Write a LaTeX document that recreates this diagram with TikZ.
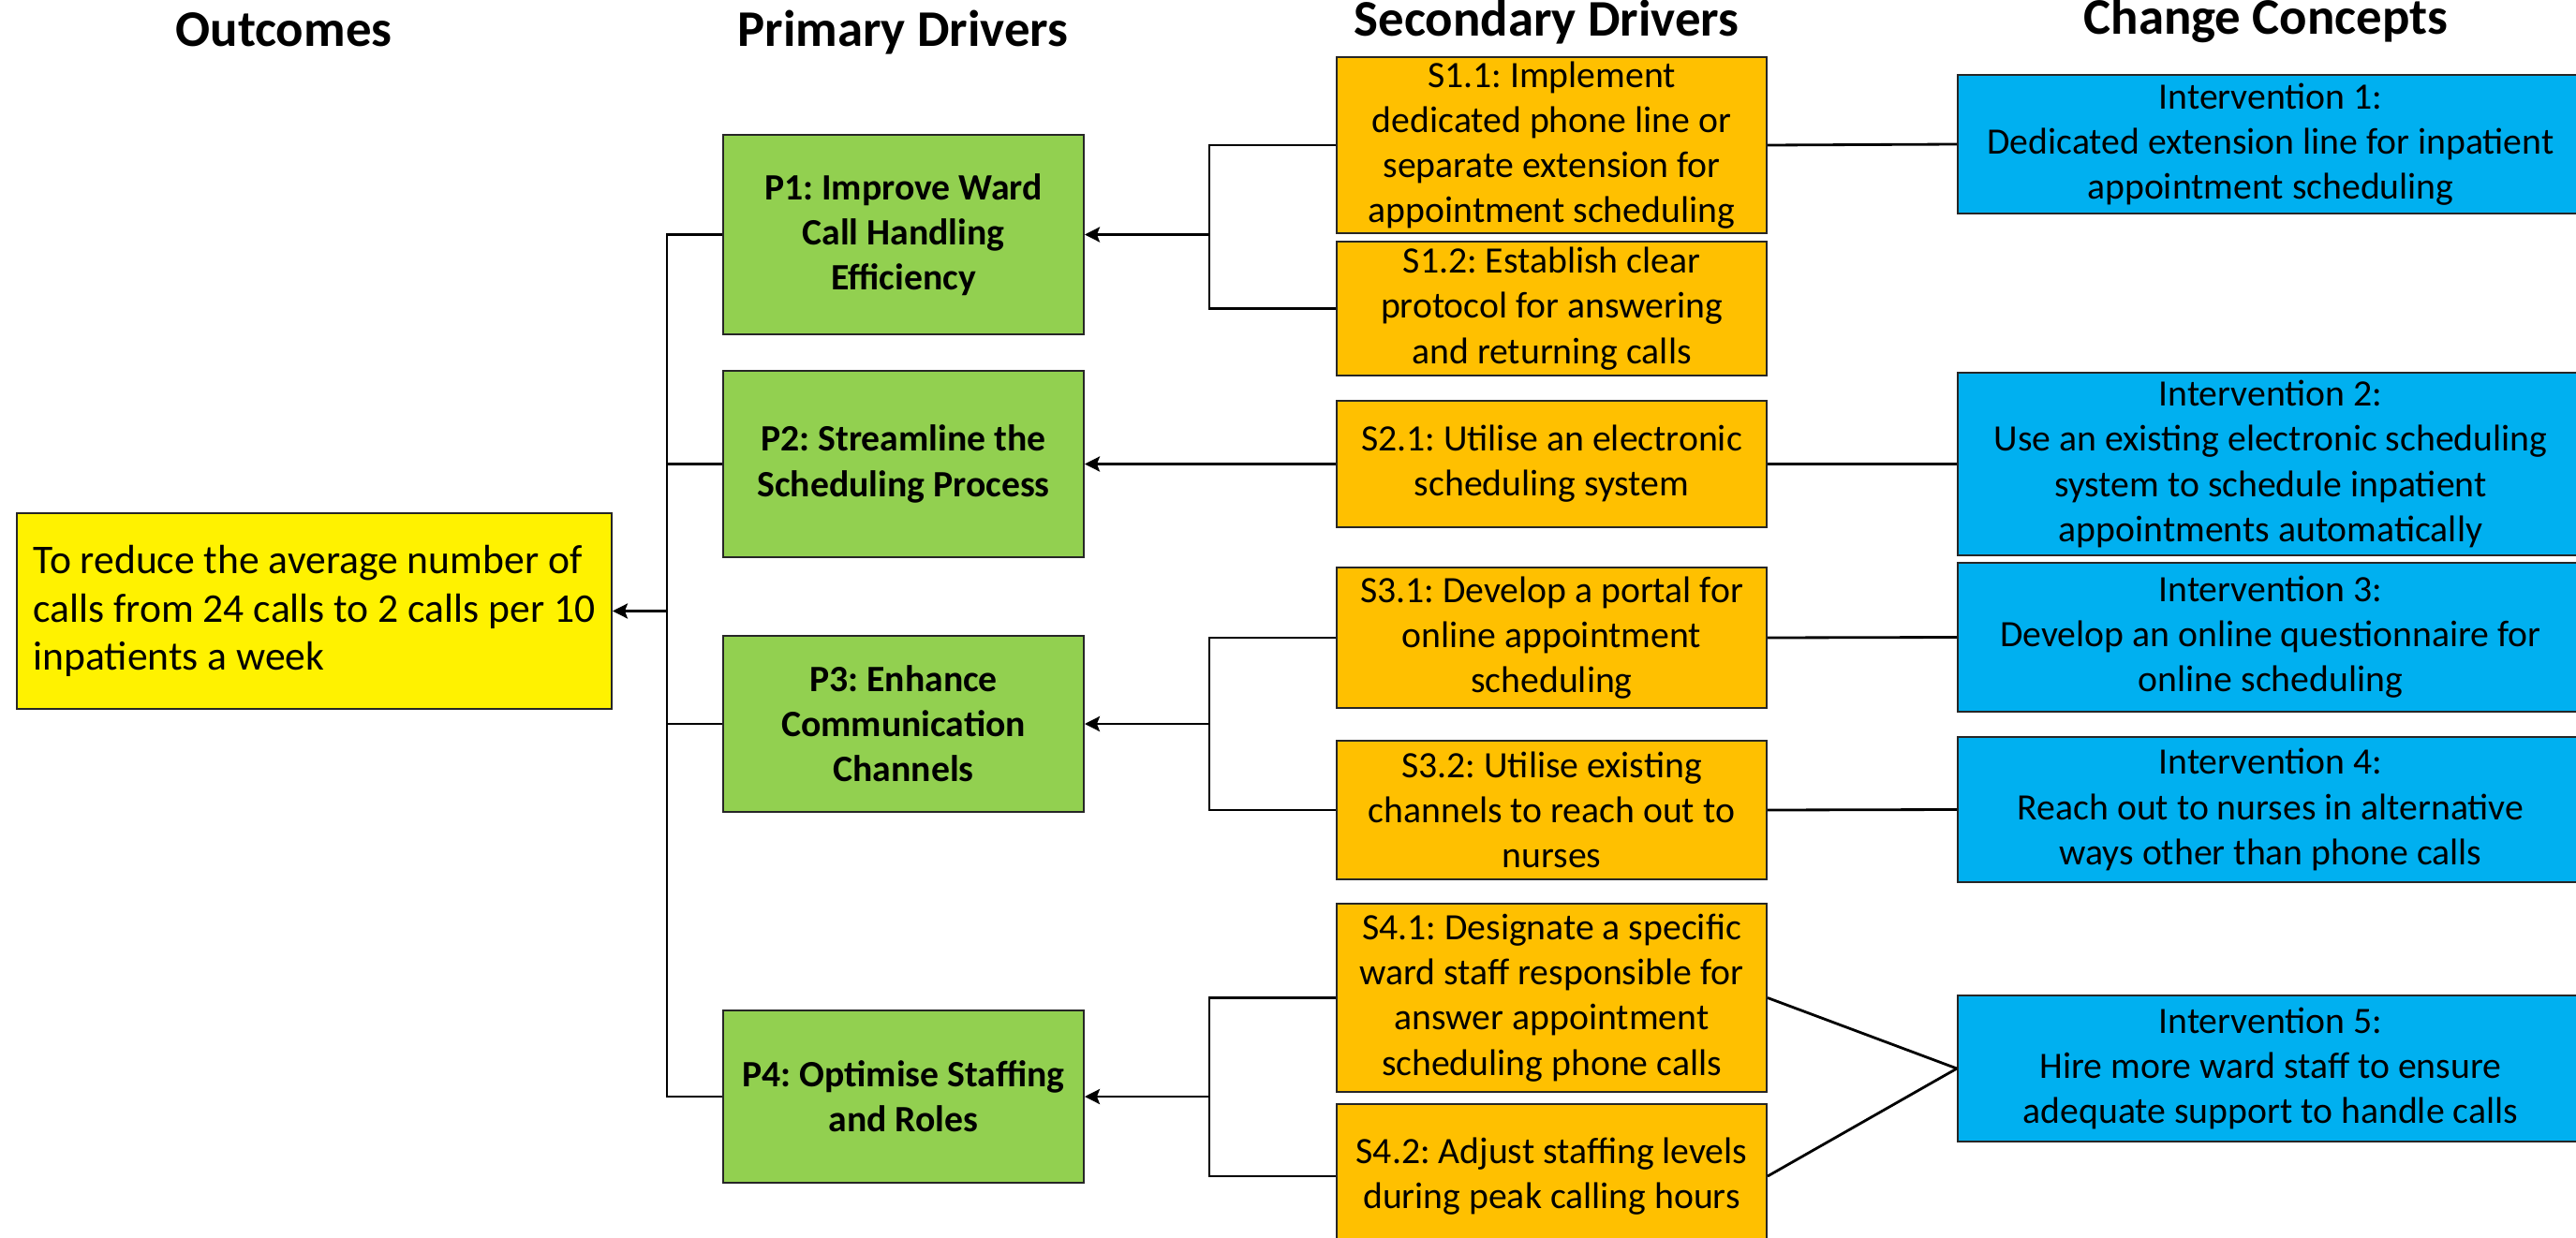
\documentclass[tikz,border=0pt]{standalone}
\usepackage{fontspec}
\setmainfont{Carlito}
\usetikzlibrary{arrows.meta}

\definecolor{pgreen}{HTML}{92D050}
\definecolor{porange}{HTML}{FFC000}
\definecolor{pblue}{HTML}{00B0F0}
\frenchspacing

\begin{document}
\begin{tikzpicture}[
  head/.style={font=\fontsize{15.6}{18}\selectfont\bfseries, anchor=base},
  box/.style={draw=black!85, line width=0.55pt, inner sep=0pt, align=center,
    font=\fontsize{11.3}{13.7}\selectfont},
  goalbox/.style={box, fill=yellow, align=left, font=\fontsize{12.4}{14.6}\selectfont},
  primary/.style={box, fill=pgreen, minimum width=3.85cm, font=\fontsize{11.3}{13.7}\selectfont\bfseries},
  secondary/.style={box, fill=porange, minimum width=4.59cm},
  concept/.style={box, fill=pblue, minimum width=6.68cm},
  link/.style={line width=0.8pt},
  feed/.style={link, -{Stealth[length=1.6mm, width=1.6mm, inset=0.3mm]}},
]
\path[use as bounding box, fill=white] (0,0) rectangle (27.5,-13.22);

% column headings
\node[head] (h1) at (3.03,-0.50)  {Outcomes};
\node[head] (h2) at (9.64,-0.50)  {Primary Drivers};
\node[head] (h3) at (16.51,-0.39) {Secondary Drivers};
\node[head] (h4) at (24.19,-0.36) {Change Concepts};

% outcome
\node[goalbox, minimum width=6.35cm, minimum height=2.09cm] (goal) at (3.355,-6.525)
  {To reduce the average number of\\calls from 24 calls to 2 calls per 10\\inpatients a week};

% primary drivers
\node[primary, minimum height=2.13cm] (p1) at (9.645,-2.505)  {P1: Improve Ward\\Call Handling\\Efficiency};
\node[primary, minimum height=1.99cm] (p2) at (9.645,-4.955)  {P2: Streamline the\\Scheduling Process};
\node[primary, minimum height=1.88cm] (p3) at (9.645,-7.73)   {P3: Enhance\\Communication\\Channels};
\node[primary, minimum height=1.84cm] (p4) at (9.645,-11.71)  {P4: Optimise Staffing\\and Roles};

% secondary drivers
\node[secondary, minimum height=1.88cm] (s11) at (16.565,-1.55)  {S1.1: Implement\\dedicated phone line or\\separate extension for\\appointment scheduling};
\node[secondary, minimum height=1.43cm] (s12) at (16.565,-3.295) {S1.2: Establish clear\\protocol for answering\\and returning calls};
\node[secondary, minimum height=1.35cm] (s21) at (16.565,-4.955) {S2.1: Utilise an electronic\\scheduling system};
\node[secondary, minimum height=1.50cm] (s31) at (16.565,-6.81)  {S3.1: Develop a portal for\\online appointment\\scheduling};
\node[secondary, minimum height=1.48cm] (s32) at (16.565,-8.65)  {S3.2: Utilise existing\\channels to reach out to\\nurses};
\node[secondary, minimum height=2.01cm] (s41) at (16.565,-10.655) {S4.1: Designate a specific\\ward staff responsible for\\answer appointment\\scheduling phone calls};
\node[secondary, minimum height=1.54cm] (s42) at (16.565,-12.56) {S4.2: Adjust staffing levels\\during peak calling hours};

% change concepts
\node[concept, minimum height=1.48cm] (i1) at (24.24,-1.54)   {Intervention 1:\\Dedicated extension line for inpatient\\appointment scheduling};
\node[concept, minimum height=1.95cm] (i2) at (24.24,-4.955)  {Intervention 2:\\Use an existing electronic scheduling\\system to schedule inpatient\\appointments automatically};
\node[concept, minimum height=1.59cm] (i3) at (24.24,-6.805)  {Intervention 3:\\Develop an online questionnaire for\\online scheduling};
\node[concept, minimum height=1.55cm] (i4) at (24.24,-8.645)  {Intervention 4:\\Reach out to nurses in alternative\\ways other than phone calls};
\node[concept, minimum height=1.56cm] (i5) at (24.24,-11.41)  {Intervention 5:\\Hire more ward staff to ensure\\adequate support to handle calls};

% junctions on the buses
\coordinate (j0) at (7.12,-6.525);
\coordinate (j1) at (12.91,-2.505);
\coordinate (j3) at (12.91,-7.73);
\coordinate (j4) at (12.91,-11.71);

% primary drivers feed the outcome
\draw[link] (p1.west) -| (j0) |- (p4.west);
\draw[link] (p2.west) -- (p2.west -| j0);
\draw[link] (p3.west) -- (p3.west -| j0);
\draw[feed] (j0) -- (goal.east);

% secondary drivers feed the primary ones
\draw[link] (s11.west) -| (j1) |- (s12.west);
\draw[feed] (j1) -- (p1.east);
\draw[feed] (s21.west) -- (p2.east);
\draw[link] (s31.west) -| (j3) |- (s32.west);
\draw[feed] (j3) -- (p3.east);
\draw[link] (s41.west) -| (j4) |- (s42.west);
\draw[feed] (j4) -- (p4.east);

% change concepts
\draw[link] (s11.east) -- (i1.west);
\draw[link] (s21.east) -- (i2.west);
\draw[link] (s31.east) -- (i3.west);
\draw[link] (s32.east) -- (i4.west);
\draw[link] (s41.east) -- (i5.west);
\draw[link] (s42.east) -- (i5.west);
\end{tikzpicture}
\end{document}
